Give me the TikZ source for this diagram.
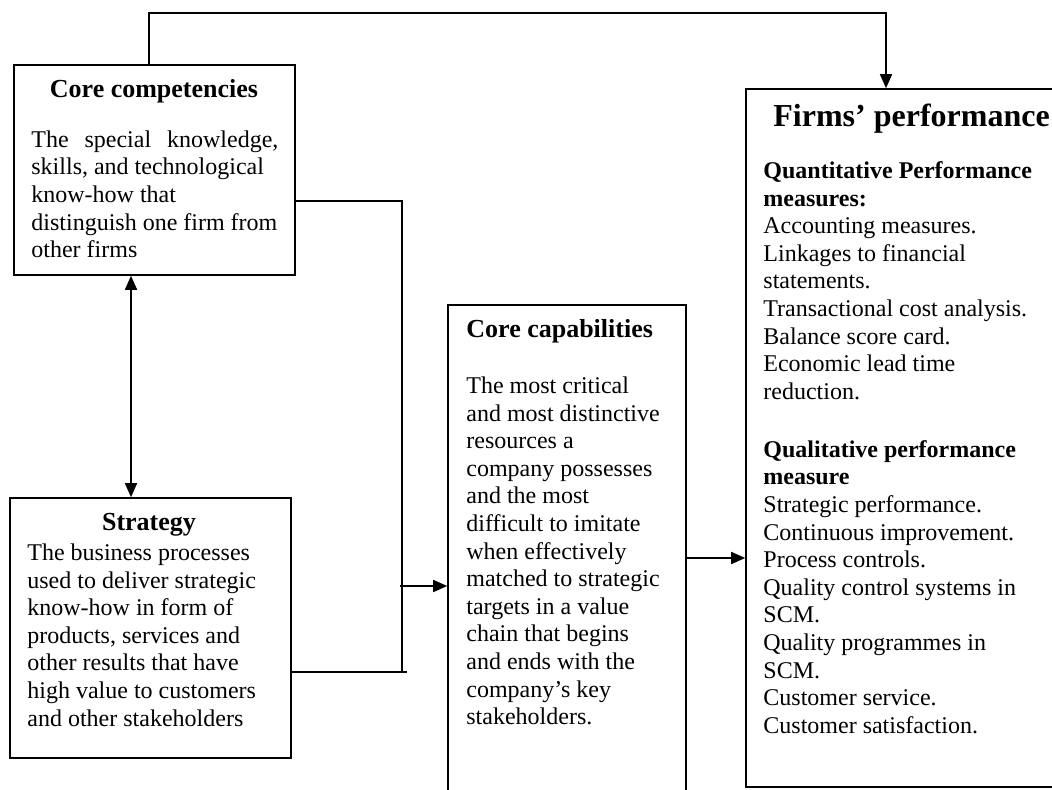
\documentclass[tikz,border=0pt]{standalone}
\usepackage{fontspec}
\setmainfont{Liberation Serif}
\usetikzlibrary{arrows.meta,fit}
\begin{document}
\begin{tikzpicture}[x=0.5pt,y=-0.5pt,
  box/.style={draw,line width=0.8pt,inner sep=0pt},
  txt/.style={inner sep=0pt,anchor=north west,align=left,font=\fontsize{12}{13.8}\selectfont},
  ttl/.style={inner sep=0pt,font=\fontsize{13}{15}\selectfont\bfseries},
  link/.style={line width=0.8pt},
  arr/.style={link,-{Triangle[length=7pt,width=6pt]}},
  darr/.style={link,{Triangle[length=7pt,width=6pt]}-{Triangle[length=7pt,width=6pt]}}]
\useasboundingbox (0,0) rectangle (1052,790);
\clip (0,0) rectangle (1052,790);

% boxes
\node[box, fit={(14,65) (295,275)}] (cc) {};
\node[box, fit={(10,498) (291,758)}] (st) {};
\node[box, fit={(448,305) (686,810)}] (cap) {};
\node[box, fit={(746,89) (1090,787)}] (fp) {};

% Core competencies
\node[ttl, anchor=base] (cct) at (154,98) {Core competencies};
\node[txt] (ccb) at (31,127) {\makebox[123.5pt][s]{\rule{0pt}{10pt}The special knowledge,}\\
skills, and technological\\
know-how that\\
distinguish one firm from\\
other firms};

% Strategy
\node[ttl, anchor=base] (stt) at (149,530) {Strategy};
\node[txt] (stb) at (27,540) {\rule{0pt}{10pt}The business processes\\
used to deliver strategic\\
know-how in form of\\
products, services and\\
other results that have\\
high value to customers\\
and other stakeholders};

% Core capabilities
\node[ttl, anchor=base west] (capt) at (466,338) {Core capabilities};
\node[txt] (capb) at (466,373) {\rule{0pt}{10pt}The most critical\\
and most distinctive\\
resources a\\
company possesses\\
and the most\\
difficult to imitate\\
when effectively\\
matched to strategic\\
targets in a value\\
chain that begins\\
and ends with the\\
company’s key\\
stakeholders.};

% Firms' performance
\node[inner sep=0pt, anchor=base west, font=\fontsize{16}{19}\selectfont\bfseries] (fpt) at (773,127) {Firms’ performance};
\node[txt] (fpb) at (763,158) {\rule{0pt}{10pt}\textbf{Quantitative Performance}\\
\textbf{measures:}\\
Accounting measures.\\
Linkages to financial\\
statements.\\
Transactional cost analysis.\\
Balance score card.\\
Economic lead time\\
reduction.\\[15.2pt]
\textbf{Qualitative performance}\\
\textbf{measure}\\
Strategic performance.\\
Continuous improvement.\\
Process controls.\\
Quality control systems in\\
SCM.\\
Quality programmes in\\
SCM.\\
Customer service.\\
Customer satisfaction.};

% connectors
\coordinate (t1) at (149,13);
\coordinate (t2) at (886,13);
\draw[arr] (cc.north -| t1) -- (t1) -- (t2) -- (fp.north -| t2);

\coordinate (j1) at (402,201);
\coordinate (j2) at (402,672);
\coordinate (j3) at (407,672);
\draw[link] (cc.east |- j1) -- (j1) -- (j2);
\draw[link] (st.east |- j3) -- (j3);

\coordinate (a1) at (400,586);
\draw[arr] (a1) -- (cap.west |- a1);

\coordinate (a2) at (0,558);
\draw[arr] (cap.east |- a2) -- (fp.west |- a2);

\coordinate (a3) at (131,0);
\draw[darr] (cc.south -| a3) -- (st.north -| a3);
\end{tikzpicture}
\end{document}
